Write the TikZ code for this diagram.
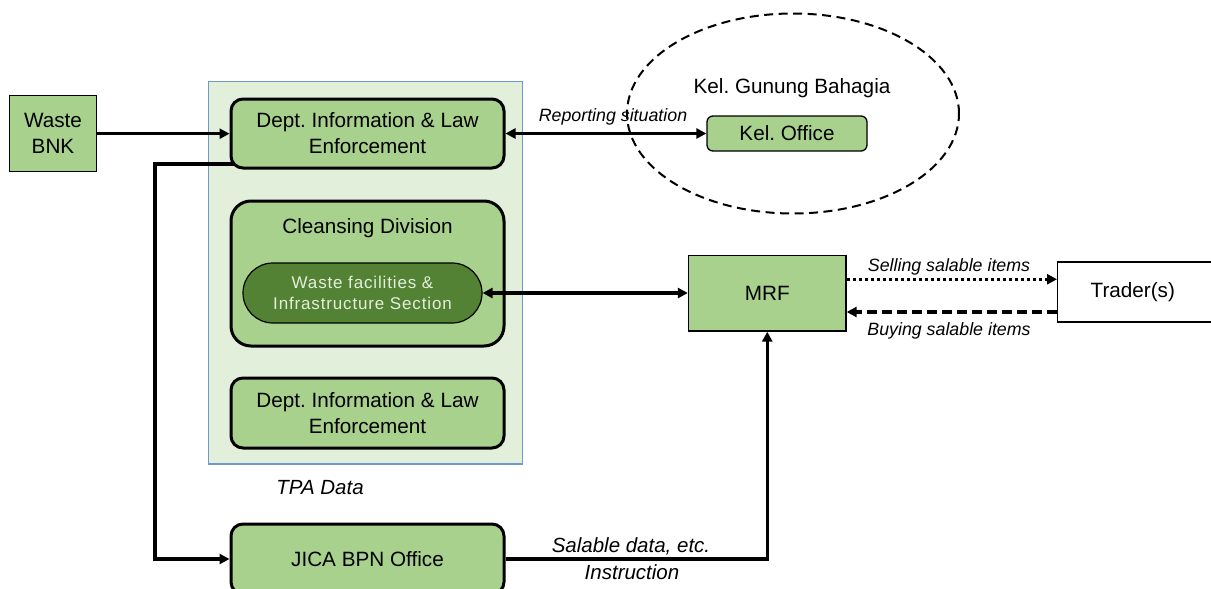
\documentclass[tikz,border=0pt]{standalone}
\usepackage{fontspec}
\setmainfont{Liberation Sans}
\newfontfamily\spacedsans[LetterSpace=5]{Liberation Sans}
\usetikzlibrary{arrows.meta,shapes.geometric,calc}
\definecolor{boxgreen}{HTML}{A9D18E}
\definecolor{palegreen}{HTML}{E2EFDA}
\definecolor{darkgreen}{HTML}{548235}
\definecolor{panelblue}{RGB}{112,152,204}
\pgfdeclarelayer{panel}
\pgfdeclarelayer{links}
\pgfsetlayers{panel,links,main}
\frenchspacing
\tikzset{
  bodyfont/.style={font=\fontsize{20.7}{26}\selectfont},
  unitbox/.style={draw, line width=3pt, rounded corners=12pt, fill=boxgreen,
    minimum width=273pt, align=center, bodyfont},
  plainbox/.style={draw, line width=1.3pt, fill=boxgreen, align=center, bodyfont},
  tip/.tip={Triangle[length=10pt,width=10pt]},
  flow/.style={line width=3.2pt, -tip},
  twoway/.style={line width=3.2pt, tip-tip},
  note/.style={font=\fontsize{17.8}{21}\selectfont\itshape, inner sep=0pt},
  bignote/.style={font=\fontsize{20.5}{25}\selectfont\itshape, inner sep=0pt},
}
\begin{document}
\begin{tikzpicture}[x=1pt,y=-1pt]
\useasboundingbox (0,0) rectangle (1211,589);

% panel holding the city units
\begin{pgfonlayer}{panel}
  \node[draw=panelblue, line width=1.2pt, fill=palegreen, minimum width=314pt,
        minimum height=382.5pt, inner sep=0pt] (panel) at (365.5,272.75) {};
\end{pgfonlayer}

% boxes
\node[plainbox, minimum width=87pt, minimum height=76pt, inner sep=0pt] (bnk) at (53,133.7) {Waste\\BNK};
\node[unitbox, minimum height=69pt] (dept1) at (367.5,133.5) {Dept. Information \& Law\\Enforcement};
\node[unitbox, minimum height=145pt, rounded corners=20pt] (clean) at (367.5,273.5) {};
\node[bodyfont, inner sep=0pt] (cleantitle) at (367.5,228) {Cleansing Division};
\node[draw, line width=1.2pt, fill=darkgreen, rounded corners=30pt, minimum width=239pt,
      minimum height=60pt, align=center, text=palegreen,
      font=\spacedsans\fontsize{17}{21}\selectfont] (wfis) at (362.5,293)
      {Waste facilities \&\\Infrastructure Section};
\node[unitbox, minimum height=70pt] (dept2) at (367.5,413) {Dept. Information \& Law\\Enforcement};
\node[unitbox, minimum height=70pt] (jica) at (367.5,559) {JICA BPN Office};

% kelurahan
\node[ellipse, draw, dashed, dash pattern=on 9pt off 5.5pt, line width=2pt,
      minimum width=332pt, minimum height=200pt] (kel) at (793,113.5) {};
\node[bodyfont, inner sep=0pt] (keltitle) at (792,88) {Kel. Gunung Bahagia};
\node[plainbox, rounded corners=6pt, minimum width=160pt, minimum height=35pt,
      inner sep=0pt] (keloffice) at (787,133.5) {Kel. Office};

% recycling side
\node[plainbox, minimum width=157.5pt, minimum height=75.5pt, inner sep=0pt] (mrf) at (767.25,293.25) {MRF};
\node[draw, line width=1.3pt, fill=white, anchor=west, minimum height=60pt,
      text width=150pt, align=left, inner xsep=33pt, inner ysep=0pt, bodyfont] (trader) at (1057,292) {Trader(s)};

% connectors
\coordinate (bend) at (155,164);
\begin{pgfonlayer}{links}
  \draw[flow] ([yshift=-30.5pt]dept1.center) -- (bend) |- (jica.west);
\end{pgfonlayer}
\draw[flow] (bnk.east) -- (bnk.east -| dept1.west);
\draw[twoway] (dept1.east) -- (keloffice.west);
\draw[twoway] (wfis.east) -- (wfis.east -| mrf.west);
\draw[flow] (jica.east) -| (mrf.south);
\draw[line width=3.5pt, dash pattern=on 3pt off 3pt, -tip]
  ([yshift=14pt]mrf.east) -- ([yshift=14pt]mrf.east -| trader.west);
\draw[line width=3.5pt, dash pattern=on 10pt off 5pt, -tip]
  ([yshift=-20pt]trader.west) -- ([yshift=-20pt]trader.west -| mrf.east);

% labels
\node[note] (lreport) at (613,117) {Reporting situation};
\node[note] (lsell) at (949,267) {Selling salable items};
\node[note] (lbuy) at (949,331) {Buying salable items};
\node[bignote] (ltpa) at (320,488) {TPA Data};
\node[bignote] (lsalable) at (631,546) {Salable data, etc.};
\node[bignote] (linstr) at (632,572) {Instruction};
\end{tikzpicture}
\end{document}
